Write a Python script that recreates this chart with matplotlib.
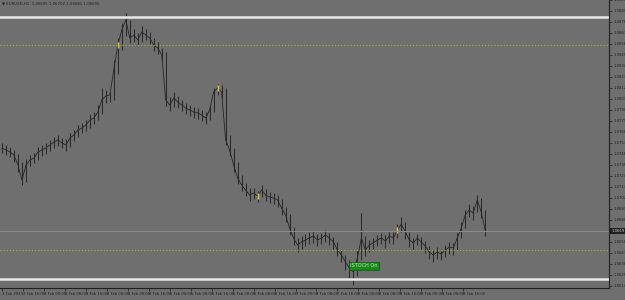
import matplotlib
matplotlib.use("Agg")
import matplotlib.pyplot as plt
import numpy as np

# EURUSD bars (one entry every few bars)
closes = [1.0752, 1.0750, 1.0748, 1.0745, 1.0735, 1.0720, 1.0735, 1.0740, 1.0742, 1.0748,
          1.0750, 1.0752, 1.0755, 1.0758, 1.0760, 1.0757, 1.0755, 1.0762, 1.0765, 1.0770,
          1.0772, 1.0775, 1.0780, 1.0782, 1.0788, 1.0800, 1.0804, 1.0805, 1.0830, 1.0855,
          1.0870, 1.0880, 1.0862, 1.0865, 1.0860, 1.0868, 1.0865, 1.0862, 1.0855, 1.0852,
          1.0845, 1.0800, 1.0795, 1.0802, 1.0798, 1.0795, 1.0792, 1.0790, 1.0788, 1.0787,
          1.0785, 1.0782, 1.0790, 1.0808, 1.0812, 1.0808, 1.0760, 1.0750, 1.0735, 1.0722,
          1.0715, 1.0710, 1.0705, 1.0707, 1.0704, 1.0710, 1.0705, 1.0703, 1.0702, 1.0700,
          1.0692, 1.0685, 1.0672, 1.0662, 1.0655, 1.0658, 1.0660, 1.0662, 1.0664, 1.0660,
          1.0662, 1.0665, 1.0662, 1.0658, 1.0650, 1.0645, 1.0638, 1.0632, 1.0628, 1.0642,
          1.0662, 1.0650, 1.0655, 1.0657, 1.0660, 1.0662, 1.0659, 1.0664, 1.0662, 1.0670,
          1.0676, 1.0668, 1.0660, 1.0657, 1.0662, 1.0658, 1.0654, 1.0648, 1.0645, 1.0648,
          1.0646, 1.0650, 1.0653, 1.0652, 1.0662, 1.0672, 1.0685, 1.0690, 1.0687, 1.0700,
          1.0688, 1.0670]
highs = [1.0757, 1.0755, 1.0753, 1.0750, 1.0746, 1.0738, 1.0741, 1.0745, 1.0747, 1.0753,
         1.0755, 1.0757, 1.0760, 1.0763, 1.0765, 1.0762, 1.0761, 1.0767, 1.0770, 1.0775,
         1.0777, 1.0780, 1.0786, 1.0788, 1.0795, 1.0812, 1.0810, 1.0808, 1.0840, 1.0862,
         1.0877, 1.0887, 1.0880, 1.0871, 1.0867, 1.0874, 1.0871, 1.0868, 1.0862, 1.0858,
         1.0852, 1.0848, 1.0803, 1.0808, 1.0804, 1.0800, 1.0797, 1.0795, 1.0793, 1.0792,
         1.0790, 1.0788, 1.0794, 1.0812, 1.0816, 1.0815, 1.0812, 1.0765, 1.0752, 1.0738,
         1.0725, 1.0717, 1.0712, 1.0712, 1.0709, 1.0715, 1.0711, 1.0708, 1.0707, 1.0705,
         1.0701, 1.0693, 1.0686, 1.0673, 1.0662, 1.0664, 1.0666, 1.0668, 1.0669, 1.0666,
         1.0667, 1.0670, 1.0667, 1.0663, 1.0658, 1.0650, 1.0645, 1.0640, 1.0635, 1.0650,
         1.0687, 1.0664, 1.0660, 1.0662, 1.0665, 1.0667, 1.0665, 1.0668, 1.0668, 1.0676,
         1.0683, 1.0678, 1.0668, 1.0662, 1.0666, 1.0663, 1.0659, 1.0654, 1.0650, 1.0653,
         1.0651, 1.0655, 1.0658, 1.0657, 1.0667, 1.0678, 1.0690, 1.0696, 1.0694, 1.0705,
         1.0702, 1.0690]
lows = [1.0747, 1.0745, 1.0743, 1.0738, 1.0728, 1.0715, 1.0718, 1.0734, 1.0737, 1.0740,
        1.0744, 1.0746, 1.0749, 1.0752, 1.0754, 1.0752, 1.0749, 1.0753, 1.0759, 1.0763,
        1.0767, 1.0769, 1.0772, 1.0776, 1.0780, 1.0786, 1.0797, 1.0798, 1.0800, 1.0826,
        1.0850, 1.0864, 1.0857, 1.0858, 1.0855, 1.0858, 1.0860, 1.0856, 1.0849, 1.0846,
        1.0840, 1.0794, 1.0789, 1.0793, 1.0792, 1.0789, 1.0786, 1.0784, 1.0782, 1.0781,
        1.0779, 1.0776, 1.0780, 1.0788, 1.0805, 1.0802, 1.0755, 1.0744, 1.0728, 1.0716,
        1.0709, 1.0704, 1.0699, 1.0701, 1.0698, 1.0703, 1.0699, 1.0697, 1.0696, 1.0693,
        1.0685, 1.0678, 1.0665, 1.0655, 1.0648, 1.0651, 1.0654, 1.0656, 1.0657, 1.0654,
        1.0656, 1.0658, 1.0655, 1.0651, 1.0644, 1.0638, 1.0630, 1.0622, 1.0615, 1.0624,
        1.0640, 1.0644, 1.0648, 1.0651, 1.0654, 1.0656, 1.0652, 1.0657, 1.0656, 1.0662,
        1.0668, 1.0661, 1.0653, 1.0650, 1.0655, 1.0651, 1.0647, 1.0641, 1.0638, 1.0641,
        1.0640, 1.0643, 1.0646, 1.0645, 1.0650, 1.0662, 1.0672, 1.0683, 1.0680, 1.0688,
        1.0682, 1.0664]
signal_bars = [29, 54, 64, 99]   # bars painted yellow by the indicator

resistance = 1.0883
support = 1.0621
upper_level = 1.0855
lower_level = 1.0650
last_price = 1.0669

price_ticks = [1.0900 - 0.0011 * k for k in range(27)]
date_labels = ["2 Feb 2023", "2 Feb 16:00", "3 Feb 00:00", "3 Feb 08:00", "3 Feb 16:00",
               "4 Feb 00:00", "4 Feb 08:00", "4 Feb 16:00", "5 Feb 00:00", "5 Feb 08:00",
               "5 Feb 16:00", "6 Feb 00:00", "6 Feb 08:00", "6 Feb 16:00", "7 Feb 00:00",
               "7 Feb 08:00", "7 Feb 16:00", "8 Feb 00:00", "8 Feb 08:00", "8 Feb 16:00",
               "9 Feb 00:00", "9 Feb 08:00", "9 Feb 16:00"]

bg = "#6f6f6f"
bar_col = "#262626"

fig = plt.figure(figsize=(6.25, 3.0), dpi=100, facecolor=bg)
ax = fig.add_axes([0.0, 0.04, 0.9744, 0.96], facecolor=bg)

x = np.arange(len(closes))
ax.vlines(x, lows, highs, color=bar_col, lw=0.7)
ax.plot(x, closes, color=bar_col, lw=0.6)
ax.plot(signal_bars, [closes[i] for i in signal_bars], ls="none", marker="|",
        ms=4, mew=1.0, color="#d8d040")

ax.axhline(resistance, color="#e8e8e8", lw=1.8)
ax.axhline(support, color="#e8e8e8", lw=1.8)
ax.axhline(upper_level, color="#a8a838", lw=0.9, ls=(0, (1, 1.5)))
ax.axhline(lower_level, color="#a8a838", lw=0.9, ls=(0, (1, 1.5)))
ax.axhline(last_price, color="#8c8c8c", lw=0.7)

ax.set_xlim(-0.5, 152)
ax.set_ylim(1.0612, 1.0900)

# the price box covers the scale label at the last price, as in the terminal
ax.yaxis.tick_right()
ax.set_yticks(price_ticks)
ax.set_yticklabels(["" if abs(p - last_price) < 0.0006 else f"{p:.4f}" for p in price_ticks])
ax.set_xticks([i * 5.25 for i in range(len(date_labels))])
ax.set_xticklabels(date_labels, ha="left")
ax.tick_params(axis="both", labelsize=2.7, colors="#202020", length=2, width=0.5, pad=1)
for s in ["top", "left"]:
    ax.spines[s].set_visible(False)
for s in ["right", "bottom"]:
    ax.spines[s].set_color("#202020")
    ax.spines[s].set_linewidth(0.8)

ax.text(0.003, 0.995, "\u25bc EURUSD,H1  1.06695 1.06702 1.06681 1.06690",
        transform=ax.transAxes, fontsize=2.8, color="#202020", va="top", ha="left")

ax.text(1.004, (last_price - 1.0612) / (1.0900 - 1.0612), f"{last_price:.4f}",
        transform=ax.transAxes, fontsize=2.7, color="#d0d0d0", va="center", ha="left",
        bbox=dict(boxstyle="square,pad=0.3", fc="#202020", ec="none"))

ax.text(0.598, 0.078, "iSTOCH On", transform=ax.transAxes, fontsize=3.6,
        color="#dcdcdc", va="center", ha="center",
        bbox=dict(boxstyle="square,pad=0.3", fc="#168a16", ec="#0c5a0c", lw=0.5))

fig.savefig("out.png", dpi=100, facecolor=bg)
